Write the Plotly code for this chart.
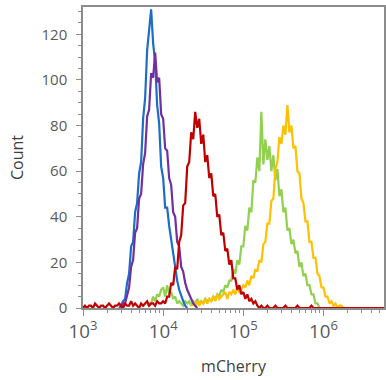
import numpy as np
import plotly.graph_objects as go

# Histogram bins are spaced evenly in log10(mCherry); each series lists counts from its first bin
bin_step = 0.025

blue_start = 3.45
blue_counts = [0, 1, 3, 4, 11, 15, 27, 29, 42, 46, 59, 64, 83, 92, 113, 121, 131, 116, 108, 89,
               81, 62, 57, 44, 44, 36, 30, 24, 17, 12, 8, 5, 3, 1, 0]

purple_start = 3.475
purple_counts = [0, 2, 2, 6, 9, 18, 21, 33, 35, 48, 50, 63, 68, 84, 87, 103, 101, 112, 99, 101,
                 85, 83, 70, 69, 57, 54, 42, 40, 29, 27, 18, 16, 11, 8, 6, 4, 2, 1, 0]

red_start = 3.0
red_counts = ([0, 1, 0, 1, 1, 0, 2, 1, 0, 1, 1, 0, 1, 2, 1, 0, 1, 1, 2, 1,
               0, 2, 1, 1, 3, 1, 2, 1, 0, 2, 1, 2, 3, 1, 2, 2, 1, 3, 2, 2] +
              [3, 2, 5, 5, 11, 10, 18, 17, 29, 32, 45, 46, 62, 64, 77, 74, 86, 79, 83, 72,
               76, 64, 67, 57, 59, 49, 50, 40, 41, 32, 33, 25, 26, 19, 21, 13, 13, 8, 10, 6,
               7, 4, 6, 3, 4, 2, 3, 1, 0] +
              [1, 0, 0, 1, 0, 0, 0, 1, 0, 0, 0, 0, 1, 0, 0, 0, 0, 0, 1, 0,
               0, 0, 0, 0, 0, 1, 0, 0, 0, 0, 0, 0, 0, 0, 0, 0, 0, 0, 0, 0,
               0, 0, 0, 0, 0, 0, 0, 0, 0, 0, 0, 0, 0, 0, 0, 0, 0, 0, 0, 0,
               0, 0, 0, 0])

green_start = 3.8
green_counts = ([1, 2, 2, 5, 3, 6, 5, 8, 9, 5, 10, 6, 7, 4, 5, 2, 3, 2, 1, 3,
                 2, 3, 1, 3, 2, 4, 2, 3, 2, 4, 3, 4, 3, 5, 4, 6, 5, 8, 7, 10] +
                [9, 12, 12, 17, 15, 21, 19, 27, 27, 36, 34, 44, 42, 56, 55, 66, 60, 86, 63, 74,
                 65, 71, 60, 67, 56, 61, 49, 52, 42, 44, 34, 35, 28, 30, 24, 25, 18, 20, 14, 15,
                 10, 10, 6, 6, 2, 2, 0])

yellow_start = 4.35
yellow_counts = ([1, 2, 1, 3, 1, 3, 2, 4, 2, 4, 3, 5, 3, 6, 4, 5, 6, 7, 4, 7,
                  6, 8, 6, 9, 7, 8] +
                 [10, 9, 12, 10, 14, 13, 17, 16, 21, 20, 28, 29, 37, 37, 47, 48, 61, 64, 75, 72,
                  80, 76, 89, 77, 80, 70, 71, 60, 59, 48, 46, 38, 38, 29, 29, 22, 22, 15, 14, 9,
                  9, 5, 5, 2, 3, 1, 2, 0, 1, 1, 0])

series = [
    ("green", green_start, green_counts, "#92D050"),
    ("yellow", yellow_start, yellow_counts, "#FFC000"),
    ("blue", blue_start, blue_counts, "#1C6DC6"),
    ("purple", purple_start, purple_counts, "#7030A0"),
    ("red", red_start, red_counts, "#C00000"),
]

fig = go.Figure()
for name, start, counts, color in series:
    logs = start + bin_step * np.arange(len(counts))
    fig.add_trace(go.Scatter(
        x=10 ** logs, y=counts, mode="lines", name=name,
        line=dict(color=color, width=2.2),
        showlegend=False, hoverinfo="skip"))

axis_col = "#8c8c8c"
text_col = "#595959"
fig.update_layout(
    width=386, height=380,
    margin=dict(l=83, r=0, t=7, b=72),
    paper_bgcolor="white", plot_bgcolor="white",
    font=dict(family="Open Sans", color=text_col, size=14),
    xaxis=dict(
        type="log", range=[3, 6.755],
        tickmode="linear", tick0=0, dtick=1,
        exponentformat="power", showexponent="all",
        showgrid=False, zeroline=False,
        showline=True, linecolor=axis_col, linewidth=1.5, mirror=True,
        ticks="outside", ticklen=6, tickcolor=axis_col,
        minor=dict(ticks="outside", ticklen=3, tickcolor=axis_col, showgrid=False),
        tickfont=dict(size=15, color=text_col),
        title=dict(text="mCherry", font=dict(size=16, color="#404040"), standoff=19),
    ),
    yaxis=dict(
        range=[0, 132], tickmode="linear", tick0=0, dtick=20,
        showgrid=False, zeroline=False,
        showline=True, linecolor=axis_col, linewidth=1.5, mirror=True,
        ticks="outside", ticklen=5, tickcolor=axis_col,
        minor=dict(ticks="outside", ticklen=3, dtick=5, tickcolor=axis_col, showgrid=False),
        tickfont=dict(size=15, color=text_col),
        ticklabelstandoff=6,
        title=dict(text="Count", font=dict(size=16, color="#404040"), standoff=14),
    ),
)

fig.write_html("out.html")
